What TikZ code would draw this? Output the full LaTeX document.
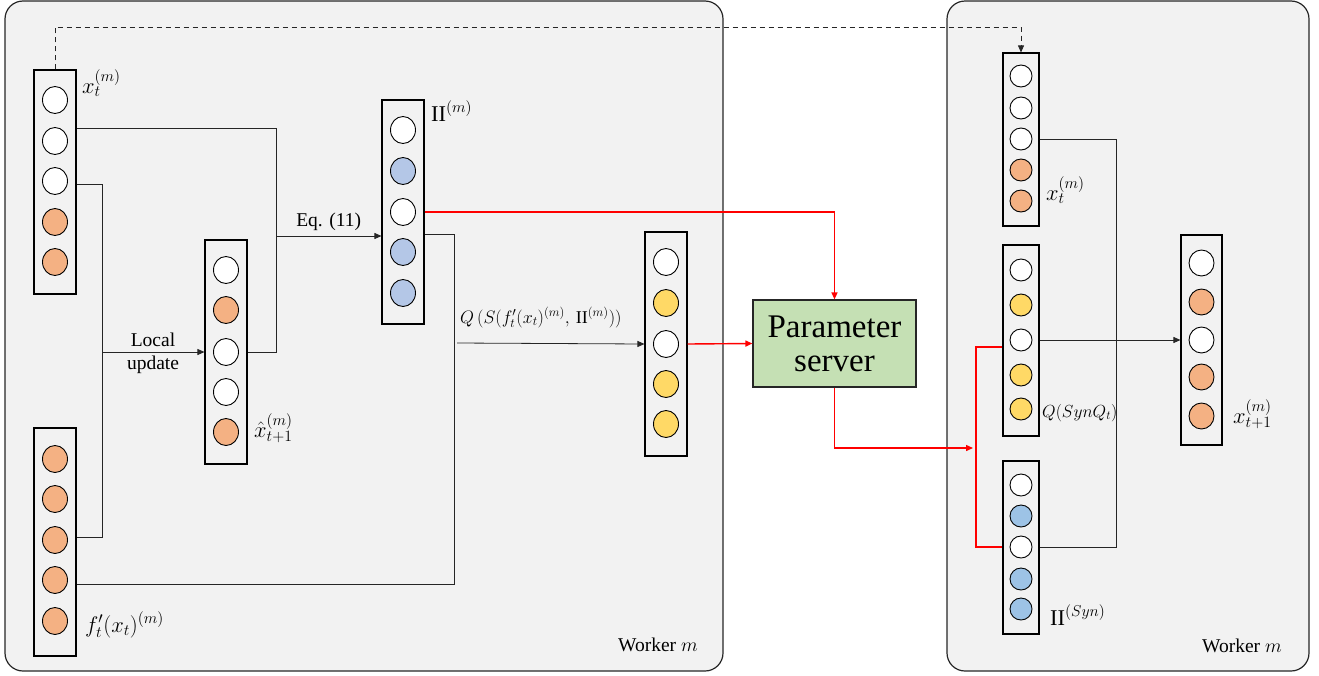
\RequirePackage{fix-cm}
\documentclass[tikz,border=0pt]{standalone}
\usepackage{fontspec}
\setmainfont{Liberation Serif}
\usetikzlibrary{arrows.meta,shapes.geometric,calc}
\definecolor{panel}{HTML}{F2F2F2}
\definecolor{org}{HTML}{F4B183}
\definecolor{blu}{HTML}{B4C7E7}
\definecolor{blutwo}{HTML}{9DC3E6}
\definecolor{yel}{HTML}{FFD966}
\definecolor{grn}{HTML}{C5E0B4}
\begin{document}
\begin{tikzpicture}[x=1pt,y=-1pt,
 panelbox/.style={draw=black!85,line width=1.2pt,fill=panel,rounded corners=18pt},
 vecbox/.style={draw=black,line width=1.1pt,fill=panel,minimum width=42pt,inner sep=0pt},
 vecboxs/.style={vecbox,minimum width=36pt},
 circL/.style={ellipse,draw=black,line width=0.9pt,minimum width=25pt,minimum height=27pt,inner sep=0pt},
 circS/.style={circle,draw=black,line width=0.9pt,minimum size=22pt,inner sep=0pt},
 circM/.style={ellipse,draw=black,line width=0.9pt,minimum width=25pt,minimum height=26pt,inner sep=0pt},
 wire/.style={draw=black!85,line width=0.8pt},
 arr/.style={wire,-{Triangle[length=7pt,width=6pt]}},
 redwire/.style={draw=red,line width=1.4pt},
 redarr/.style={redwire,-{Triangle[length=7pt,width=6pt]}},
 txt/.style={font=\fontsize{19.5}{23}\selectfont,inner sep=0pt},
 mlab/.style={font=\fontsize{22.5}{26}\selectfont,inner sep=0pt,anchor=base west},
]
\useasboundingbox (0,0) rectangle (1319,675);
% panels
\draw[panelbox] (5,1) rectangle (723,671);
\draw[panelbox] (947,1) rectangle (1309,671);

% vector 1
\node[vecbox,minimum height=224pt] (v1) at (55,182) {};
\foreach \y/\c [count=\i] in {100/white,141/white,181/white,222/org,262/org}
  \node[circL,fill=\c] (v1c\i) at (55,\y) {};
% vector 2
\node[vecbox,minimum height=228pt] (v2) at (55,542) {};
\foreach \y [count=\i] in {459,499,540,580,621}
  \node[circL,fill=org] (v2c\i) at (55,\y) {};
% vector 3
\node[vecbox,minimum height=224pt] (v3) at (226,352) {};
\foreach \y/\c [count=\i] in {270/white,310/org,352/white,392/white,432/org}
  \node[circL,fill=\c] (v3c\i) at (226,\y) {};
% vector 4
\node[vecbox,minimum height=224pt] (v4) at (403,212) {};
\foreach \y/\c [count=\i] in {130/white,171/blu,212/white,252/blu,293/blu}
  \node[circL,fill=\c] (v4c\i) at (403,\y) {};
% vector 5
\node[vecbox,minimum height=224pt] (v5) at (666,344) {};
\foreach \y/\c [count=\i] in {262/white,303/yel,344/white,384/yel,424/yel}
  \node[circL,fill=\c] (v5c\i) at (666,\y) {};
% parameter server
\node[draw=black!85,line width=1.2pt,fill=grn,minimum width=163pt,minimum height=87pt,
  font=\fontsize{33}{34}\selectfont,align=center,inner sep=0pt] (ps) at (834.5,343.5) {Parameter\\server};
% right vectors
\node[vecboxs,minimum height=173pt] (v6) at (1021,139.5) {};
\foreach \y/\c [count=\i] in {76/white,108/white,139/white,170/org,201/org}
  \node[circS,fill=\c] (v6c\i) at (1021,\y) {};
\node[vecboxs,minimum height=191pt] (v7) at (1021,340.5) {};
\foreach \y/\c [count=\i] in {270/white,305/yel,340/white,375/yel,409/yel}
  \node[circS,fill=\c] (v7c\i) at (1021,\y) {};
\node[vecboxs,minimum height=173pt] (v8) at (1021,547.5) {};
\foreach \y/\c [count=\i] in {485/white,516/blutwo,547/white,579/blutwo,609/blutwo}
  \node[circS,fill=\c] (v8c\i) at (1021,\y) {};
\node[vecbox,minimum width=41pt,minimum height=210pt] (v9) at (1201.5,340) {};
\foreach \y/\c [count=\i] in {263/white,302/org,340/white,377/org,416/org}
  \node[circM,fill=\c] (v9c\i) at (1201.5,\y) {};

% coordinates for wire bends
\coordinate (j1) at (276,128);
\coordinate (j2) at (102,184);
\coordinate (j3) at (454,234);
\coordinate (j4) at (276,236);
\coordinate (j5) at (102,352);
\coordinate (j6) at (457,343);
\coordinate (d1) at (1021,27);
\coordinate (r1) at (976,347);
\coordinate (r2) at (976,547);
\coordinate (r3) at (973,448);
\coordinate (k1) at (1116,139);

% left black wires
\draw[wire] (v1.east |- j1) -| (j1 |- v3c3) -- (v3.east |- v3c3);
\draw[wire] (v1.east |- j2) -| (j2 |- 0,537) -- (v2.east |- 0,537);
\draw[wire] (v4.east |- j3) -| (j3 |- 0,584) -- (v2.east |- 0,584);
\draw[arr] (j4) -- (v4.west |- j4) node[midway,above=5pt,txt] {Eq. (11)};
\draw[arr] (j5) -- (v3.west |- v3c3);
\node[txt,align=center] (lu) at (153,353) {Local\\update};
\draw[arr] (j6) -- (v5.west |- v5c3);
% dashed
\draw[wire,dash pattern=on 5pt off 4pt,-{Triangle[length=7pt,width=6pt]}] (v1.north) |- (d1) -- (v6.north);
% red wires
\draw[redarr] (v4.east |- v4c3) -| (ps.north);
\draw[redarr] (v5.east |- v5c3) -- (ps.west);
\draw[redarr] (ps.south) |- (r3);
\draw[redwire] (v7.west |- r1) -- (r1) -- (r2) -- (v8.west |- r2);
% right black wires
\draw[wire] (v6.east |- v6c3) -| (k1 |- v8c3) -- (v8.east |- v8c3);
\draw[arr] (v7.east |- v7c3) -- (v9.west |- v7c3);

% labels
\node[mlab] at (82,93) {$x_t^{(m)}$};
\node[mlab] at (431,121) {$\mathrm{II}^{(m)}$};
\node[mlab] at (254,437) {$\hat{x}_{t+1}^{(m)}$};
\node[mlab] at (85,632) {$f_t'(x_t)^{(m)}$};
\node[mlab,font=\fontsize{18}{21}\selectfont] at (460,323) {$Q\,\Big(S\big(f_t'(x_t)^{(m)},\,\mathrm{II}^{(m)}\big)\Big)$};
\node[txt,anchor=base west] at (618,651) {Worker $m$};
\node[txt,anchor=base west] at (1202,652) {Worker $m$};
\node[mlab] at (1046,200) {$x_t^{(m)}$};
\node[mlab,font=\fontsize{17.5}{20}\selectfont] at (1042,417) {$Q(SynQ_t)$};
\node[mlab] at (1233,423) {$x_{t+1}^{(m)}$};
\node[mlab] at (1050,625) {$\mathrm{II}^{(Syn)}$};
\end{tikzpicture}
\end{document}
